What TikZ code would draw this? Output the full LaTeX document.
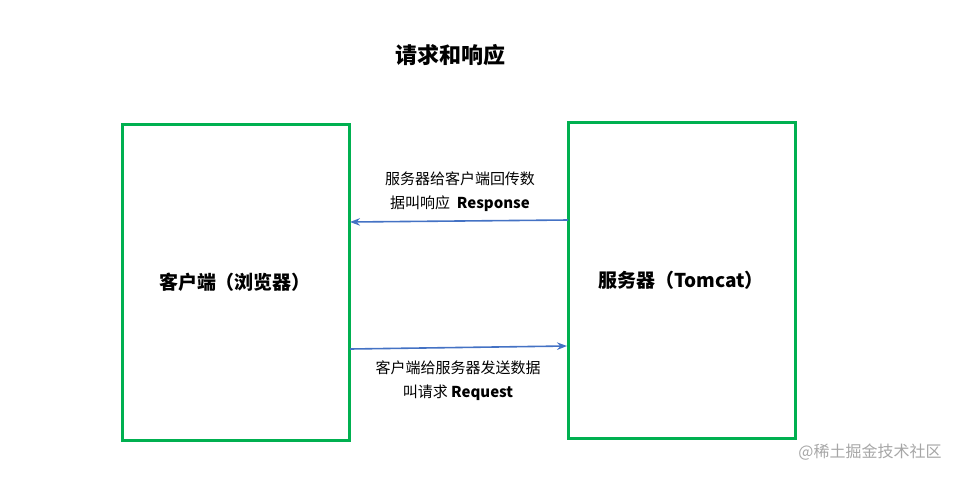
\documentclass[tikz,border=0pt]{standalone}
\usepackage{fontspec}
\setmainfont{Noto Sans CJK SC}
\usetikzlibrary{arrows.meta}
\definecolor{boxgreen}{RGB}{0,176,80}
\definecolor{arrowblue}{RGB}{68,114,196}
\tikzset{
  party/.style={draw=boxgreen,line width=1.5pt},
  msg/.style={draw=arrowblue,line width=0.8pt,-{Stealth[length=5pt]}},
  note/.style={align=center,font=\fontsize{7.5}{12}\selectfont}
}
\begin{document}
\begin{tikzpicture}[x=0.5pt,y=-0.5pt]
  \useasboundingbox (0,0) rectangle (966,478);
  \node[font=\fontsize{11}{13}\selectfont\bfseries] (title) at (450,55) {请求和响应};
  \draw[party] (122,124) rectangle (349,440);
  \draw[party] (568,122) rectangle (795,438);
  \node[font=\fontsize{9.5}{11}\selectfont\bfseries] (client) at (235,282) {客户端（浏览器）};
  \node[font=\fontsize{9.5}{11}\selectfont\bfseries] (server) at (681,280) {服务器（Tomcat）};
  \coordinate (resp-s) at (568,220);
  \coordinate (resp-e) at (350,222);
  \coordinate (req-s) at (350,349);
  \coordinate (req-e) at (567,346);
  \draw[msg] (resp-s) -- (resp-e);
  \draw[msg] (req-s) -- (req-e);
  \node[note] (resp) at (460,192) {服务器给客户端回传数\\据叫响应\ \ \textbf{Response}};
  \node[note] (req) at (458,381) {客户端给服务器发送数据\\叫请求 \textbf{Request}};
  \node[text=gray!70,font=\fontsize{8}{10}\selectfont] (mark) at (870,452) {@稀土掘金技术社区};
\end{tikzpicture}
\end{document}
